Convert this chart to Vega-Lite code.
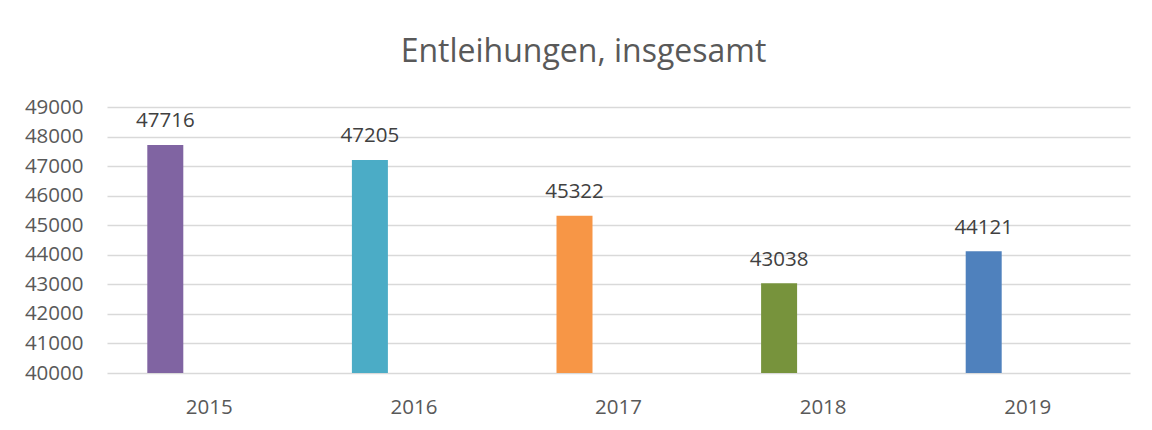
{
  "$schema": "https://vega.github.io/schema/vega-lite/v6.json",
  "autosize": "none",
  "width": 1023,
  "height": 266,
  "padding": {"left": 107, "top": 107, "right": 22, "bottom": 57},
  "background": "white",
  "config": {
    "font": "Open Sans",
    "view": {"stroke": null},
    "axis": {"labelColor": "#595959", "labelFont": "Open Sans", "labelFontSize": 20.5, "titleColor": "#595959"}
  },
  "title": {
    "text": "Entleihungen, insgesamt",
    "font": "Open Sans",
    "fontSize": 32,
    "fontWeight": "normal",
    "color": "#595959",
    "anchor": "middle",
    "baseline": "alphabetic",
    "dx": -35,
    "offset": 3
  },
  "data": {
    "values": [
      {"Jahr": "2015", "Entleihungen": 47716},
      {"Jahr": "2016", "Entleihungen": 47205},
      {"Jahr": "2017", "Entleihungen": 45322},
      {"Jahr": "2018", "Entleihungen": 43038},
      {"Jahr": "2019", "Entleihungen": 44121}
    ]
  },
  "encoding": {
    "x": {
      "field": "Jahr",
      "type": "nominal",
      "scale": {"paddingInner": 0, "paddingOuter": 0},
      "axis": {"title": null, "labelAngle": 0, "domain": false, "ticks": false, "grid": false, "labelBaseline": "alphabetic", "labelPadding": 40}
    },
    "y": {
      "field": "Entleihungen",
      "type": "quantitative",
      "scale": {"domain": [40000, 49000], "zero": false, "nice": false},
      "axis": {"title": null, "values": [40000, 41000, 42000, 43000, 44000, 45000, 46000, 47000, 48000, 49000], "format": "d", "domain": false, "ticks": false, "grid": true, "gridColor": "#d9d9d9", "gridWidth": 1.5, "labelPadding": 24, "labelBaseline": "middle"}
    }
  },
  "layer": [
    {
      "mark": {"type": "bar", "width": 36, "xOffset": -44},
      "encoding": {
        "y2": {"datum": 40000},
        "color": {
          "field": "Jahr",
          "type": "nominal",
          "scale": {"domain": ["2015", "2016", "2017", "2018", "2019"], "range": ["#8064a2", "#4bacc6", "#f79646", "#77933c", "#4f81bd"]},
          "legend": null
        }
      }
    },
    {
      "mark": {"type": "text", "xOffset": -44, "dy": -17.6, "baseline": "alphabetic", "align": "center", "fontSize": 20.5, "color": "#404040", "font": "Open Sans"},
      "encoding": {
        "text": {"field": "Entleihungen", "type": "quantitative", "format": "d"}
      }
    }
  ]
}
